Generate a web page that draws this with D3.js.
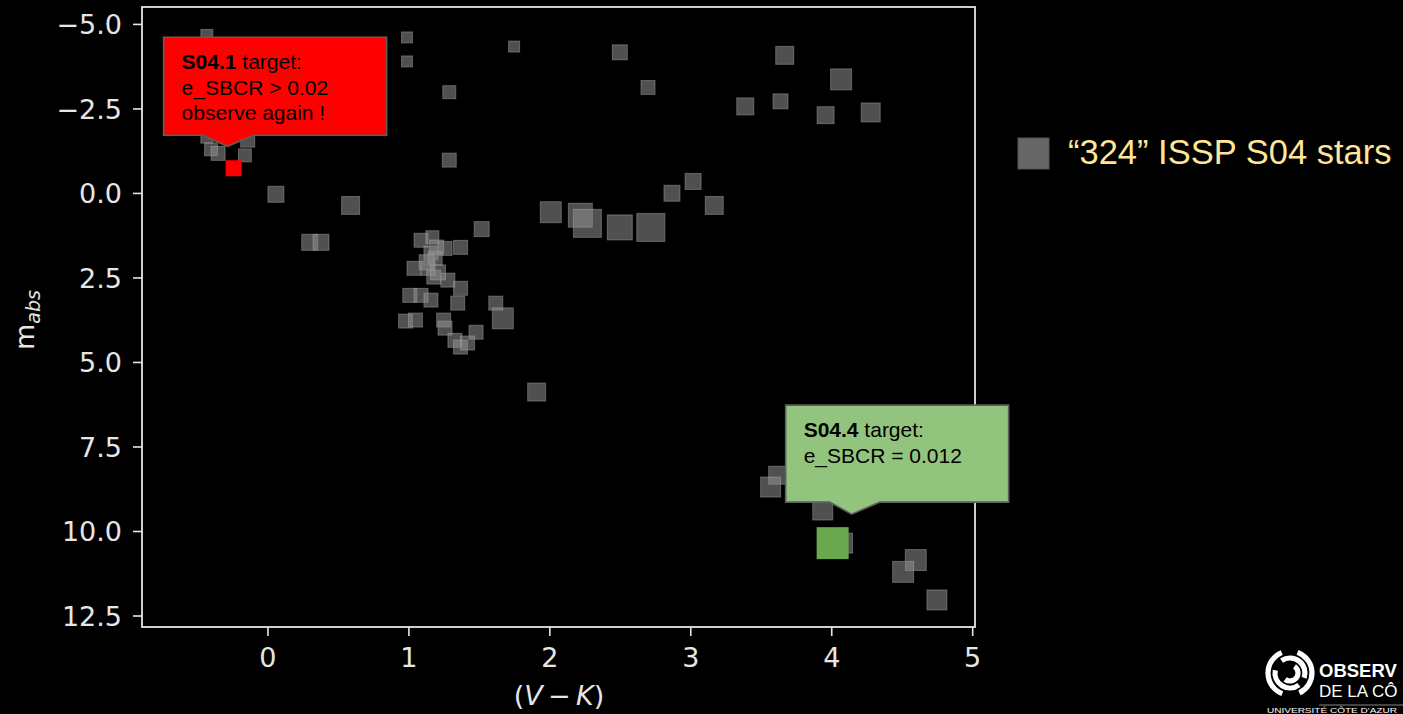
<!DOCTYPE html>
<html>
<head>
<meta charset="utf-8">
<script src="https://cdn.jsdelivr.net/npm/d3@7"></script>
<style>
  html, body { margin: 0; padding: 0; background: #000; }
  svg { display: block; }
</style>
</head>
<body>
<svg id="chart" width="1403" height="714"></svg>
<script>
// ---------------- DATA ----------------
// (V-K) colour index of each ISSP S04 star
const vk = [
  -0.43, -0.40, -0.35, -0.16, -0.14, -0.43, 0.06, 0.59, 0.99, 0.99,
  1.29, 1.75, 2.50, 2.70, 3.67, 4.07, 3.39, 3.64, 3.96, 4.28,
  1.29, 0.30, 0.38, 1.52, 2.01, 2.22, 2.27, 2.50, 2.72, 2.87,
  3.02, 3.17,
  1.09, 1.17, 1.26, 1.37, 1.16, 1.19, 1.04, 1.14, 1.18, 1.28,
  1.37, 1.01, 1.09, 1.16, 1.35, 0.98, 1.05, 1.25, 1.26, 1.62,
  1.67, 1.48, 1.33, 1.37, 1.42, 1.13, 1.21, 1.20,
  1.91, 3.62, 3.57, 3.94, 4.08, 4.60, 4.51, 4.75
];
// absolute magnitude of each star
const mabs = [
  -4.66, -1.29, -1.17, -1.11, -1.56, -1.65, 0.04, 0.37, -4.60, -3.89,
  -2.98, -4.33, -4.16, -3.12, -4.07, -3.36, -2.56, -2.71, -2.30, -2.38,
  -0.97, 1.46, 1.46, 1.07, 0.57, 0.66, 0.90, 1.02, 1.02, 0.01,
  -0.34, 0.37,
  1.40, 1.31, 1.64, 1.61, 1.78, 1.93, 2.23, 2.23, 2.49, 2.58,
  2.82, 3.03, 3.03, 3.17, 3.26, 3.79, 3.76, 3.76, 4.00, 3.26,
  3.71, 4.12, 4.36, 4.56, 4.44, 2.05, 2.35, 1.60,
  5.89, 8.35, 8.70, 9.38, 10.36, 10.86, 11.21, 12.04
];
// marker size value of each star
const msize = [
  12, 13, 14, 13, 14, 12, 16, 18, 11, 11,
  13, 11, 15, 14, 18, 21, 17, 15, 17, 19,
  14, 16, 16, 15, 21, 24, 28, 25, 28, 16,
  16, 18,
  14, 13, 14, 14, 14, 14, 14, 14, 14, 14,
  14, 14, 14, 14, 14, 14, 14, 14, 14, 14,
  21, 14, 14, 14, 14, 15, 15, 14,
  18, 18, 20, 20, 20, 21, 21, 20
];
// highlighted targets
const targetNames = ["S04.1", "S04.4"];
const targetVK    = [-0.24, 4.01];
const targetMabs  = [-0.73, 10.36];
const targetSize  = [16, 32];
const targetLines = [
  [" target:", "e_SBCR > 0.02", "observe again !"],
  [" target:", "e_SBCR = 0.012"]
];
const xTicks = [0, 1, 2, 3, 4, 5];
const yTicks = [-5.0, -2.5, 0.0, 2.5, 5.0, 7.5, 10.0, 12.5];
const legendLabel = "\u201c324\u201d ISSP S04 stars";

// ---------------- LAYOUT ----------------
const svg = d3.select("#chart");
const W = 1403, H = 714;
svg.append("rect").attr("width", W).attr("height", H).attr("fill", "#000");

const plot = { left: 142, right: 975, top: 7, bottom: 627 };
const x = d3.scaleLinear().domain([-0.89, 5.02]).range([plot.left, plot.right]);
const y = d3.scaleLinear().domain([-5.5, 12.84]).range([plot.top, plot.bottom]);
const s = d3.scaleLinear().domain([0, 32]).range([0, 32]);

const axisFont = "'DejaVu Sans', sans-serif";
const fmt = d3.format(".1f");

// axes
const gx = svg.append("g").attr("transform", `translate(0,${plot.bottom})`)
  .call(d3.axisBottom(x).tickValues(xTicks).tickSize(9).tickPadding(12).tickFormat(d3.format("d")));
const gy = svg.append("g").attr("transform", `translate(${plot.left},0)`)
  .call(d3.axisLeft(y).tickValues(yTicks).tickSize(9).tickPadding(11).tickFormat(fmt));
[gx, gy].forEach(g => {
  g.select(".domain").remove();
  g.selectAll(".tick line").attr("stroke", "#e6e6e6").attr("stroke-width", 1.6);
  g.selectAll(".tick text").attr("fill", "#e6e6e6")
    .style("font-family", axisFont).style("font-size", "27px");
});
gy.selectAll(".tick text").attr("dy", "0.36em");

// points
const pts = vk.map((v, i) => ({ v, m: mabs[i], sz: msize[i] }));
svg.append("g").selectAll("rect.star").data(pts).join("rect")
  .attr("class", "star")
  .attr("x", d => x(d.v) - s(d.sz) / 2)
  .attr("y", d => y(d.m) - s(d.sz) / 2)
  .attr("width", d => s(d.sz))
  .attr("height", d => s(d.sz))
  .attr("fill", "#8e8e8e").attr("fill-opacity", 0.56)
  .attr("stroke", "#aaaaaa").attr("stroke-opacity", 0.45).attr("stroke-width", 1);

// frame
svg.append("rect")
  .attr("x", plot.left).attr("y", plot.top)
  .attr("width", plot.right - plot.left).attr("height", plot.bottom - plot.top)
  .attr("fill", "none").attr("stroke", "#e6e6e6").attr("stroke-width", 1.8);

// axis titles
const xt = svg.append("text").attr("x", 559).attr("y", 705)
  .attr("text-anchor", "middle").attr("fill", "#e6e6e6")
  .style("font-family", axisFont).style("font-size", "27px");
xt.append("tspan").text("(");
xt.append("tspan").attr("font-style", "italic").text("V");
xt.append("tspan").text("\u2009\u2212\u2009");
xt.append("tspan").attr("font-style", "italic").text("K");
xt.append("tspan").text(")");

const yt = svg.append("text").attr("transform", "translate(34,320) rotate(-90)")
  .attr("text-anchor", "middle").attr("fill", "#e6e6e6")
  .style("font-family", axisFont).style("font-size", "27px");
yt.append("tspan").text("m");
yt.append("tspan").attr("font-style", "italic").attr("font-size", "19px").attr("dy", "6").text("abs");

// targets
const targetFill = ["#ff0000", "#6aa84f"];
const calloutFill = ["#ff0000", "#93c47d"];
svg.append("g").selectAll("rect.target").data(targetVK).join("rect")
  .attr("class", "target")
  .attr("x", (d, i) => x(d) - s(targetSize[i]) / 2)
  .attr("y", (d, i) => y(targetMabs[i]) - s(targetSize[i]) / 2)
  .attr("width", (d, i) => s(targetSize[i]))
  .attr("height", (d, i) => s(targetSize[i]))
  .attr("fill", (d, i) => targetFill[i]);

// callouts (offsets relative to the target's position)
const callouts = [
  { box: [-70, 153, -131, -33], base: [-31, 20], tip: [-6, -22] },
  { box: [-47, 176, -138, -41], base: [-3, 47], tip: [19, -29] }
];
const textFont = "'Liberation Sans', Arial, sans-serif";
callouts.forEach((c, i) => {
  const cx = x(targetVK[i]), cy = y(targetMabs[i]);
  const L = cx + c.box[0], R = cx + c.box[1], T = cy + c.box[2], B = cy + c.box[3];
  const path = d3.path();
  path.moveTo(L, T); path.lineTo(R, T); path.lineTo(R, B);
  path.lineTo(cx + c.base[1], B);
  path.lineTo(cx + c.tip[0], cy + c.tip[1]);
  path.lineTo(cx + c.base[0], B);
  path.lineTo(L, B); path.closePath();
  svg.append("path").attr("d", path.toString())
    .attr("fill", calloutFill[i]).attr("stroke", "#5f5f5f").attr("stroke-width", 1.6);
  const lines = targetLines[i];
  const t = svg.append("text").attr("fill", "#000")
    .style("font-family", textFont).style("font-size", "21px");
  const tx = L + 18, ty = T + 32;
  const first = t.append("tspan").attr("x", tx).attr("y", ty);
  first.append("tspan").attr("font-weight", "bold").text(targetNames[i]);
  first.append("tspan").text(lines[0]);
  lines.slice(1).forEach((ln, k) => {
    t.append("tspan").attr("x", tx).attr("y", ty + 25.5 * (k + 1)).text(ln);
  });
});

// legend
svg.append("rect").attr("x", 1018).attr("y", 138).attr("width", 31).attr("height", 31)
  .attr("fill", "#666").attr("stroke", "#555").attr("stroke-width", 1);
svg.append("text").attr("x", 1068).attr("y", 164).attr("fill", "#ffe599")
  .style("font-family", textFont).style("font-size", "34.5px").text(legendLabel);

// logo (bottom-right corner)
const logo = svg.append("g");
const arc = d3.arc();
const lc = [1290, 673];
[[22, 0.35, 2.7], [22, 3.5, 5.9], [15, -0.6, 1.9], [15, 2.5, 4.9], [8, 0.6, 3.8]].forEach(a => {
  logo.append("path")
    .attr("transform", `translate(${lc[0]},${lc[1]})`)
    .attr("d", arc({ innerRadius: a[0] - 2.6, outerRadius: a[0] + 2.6, startAngle: a[1], endAngle: a[2] }))
    .attr("fill", "#fff");
});
const logoFont = "'Liberation Sans', Arial, sans-serif";
logo.append("text").attr("x", 1319).attr("y", 677).attr("fill", "#fff")
  .style("font-family", logoFont).style("font-size", "18.5px")
  .attr("font-weight", "bold").text("OBSERV");
logo.append("text").attr("x", 1319).attr("y", 697).attr("fill", "#fff")
  .style("font-family", logoFont).style("font-size", "17px")
  .text("DE LA CÔ");
logo.append("line").attr("x1", 1319).attr("x2", 1403).attr("y1", 705).attr("y2", 705)
  .attr("stroke", "#888").attr("stroke-width", 1);
logo.append("text").attr("x", 1267).attr("y", 713).attr("fill", "#fff")
  .style("font-family", logoFont).style("font-size", "8px")
  .attr("textLength", 130).attr("lengthAdjust", "spacingAndGlyphs")
  .text("UNIVERSITÉ CÔTE D'AZUR");
</script>
</body>
</html>
